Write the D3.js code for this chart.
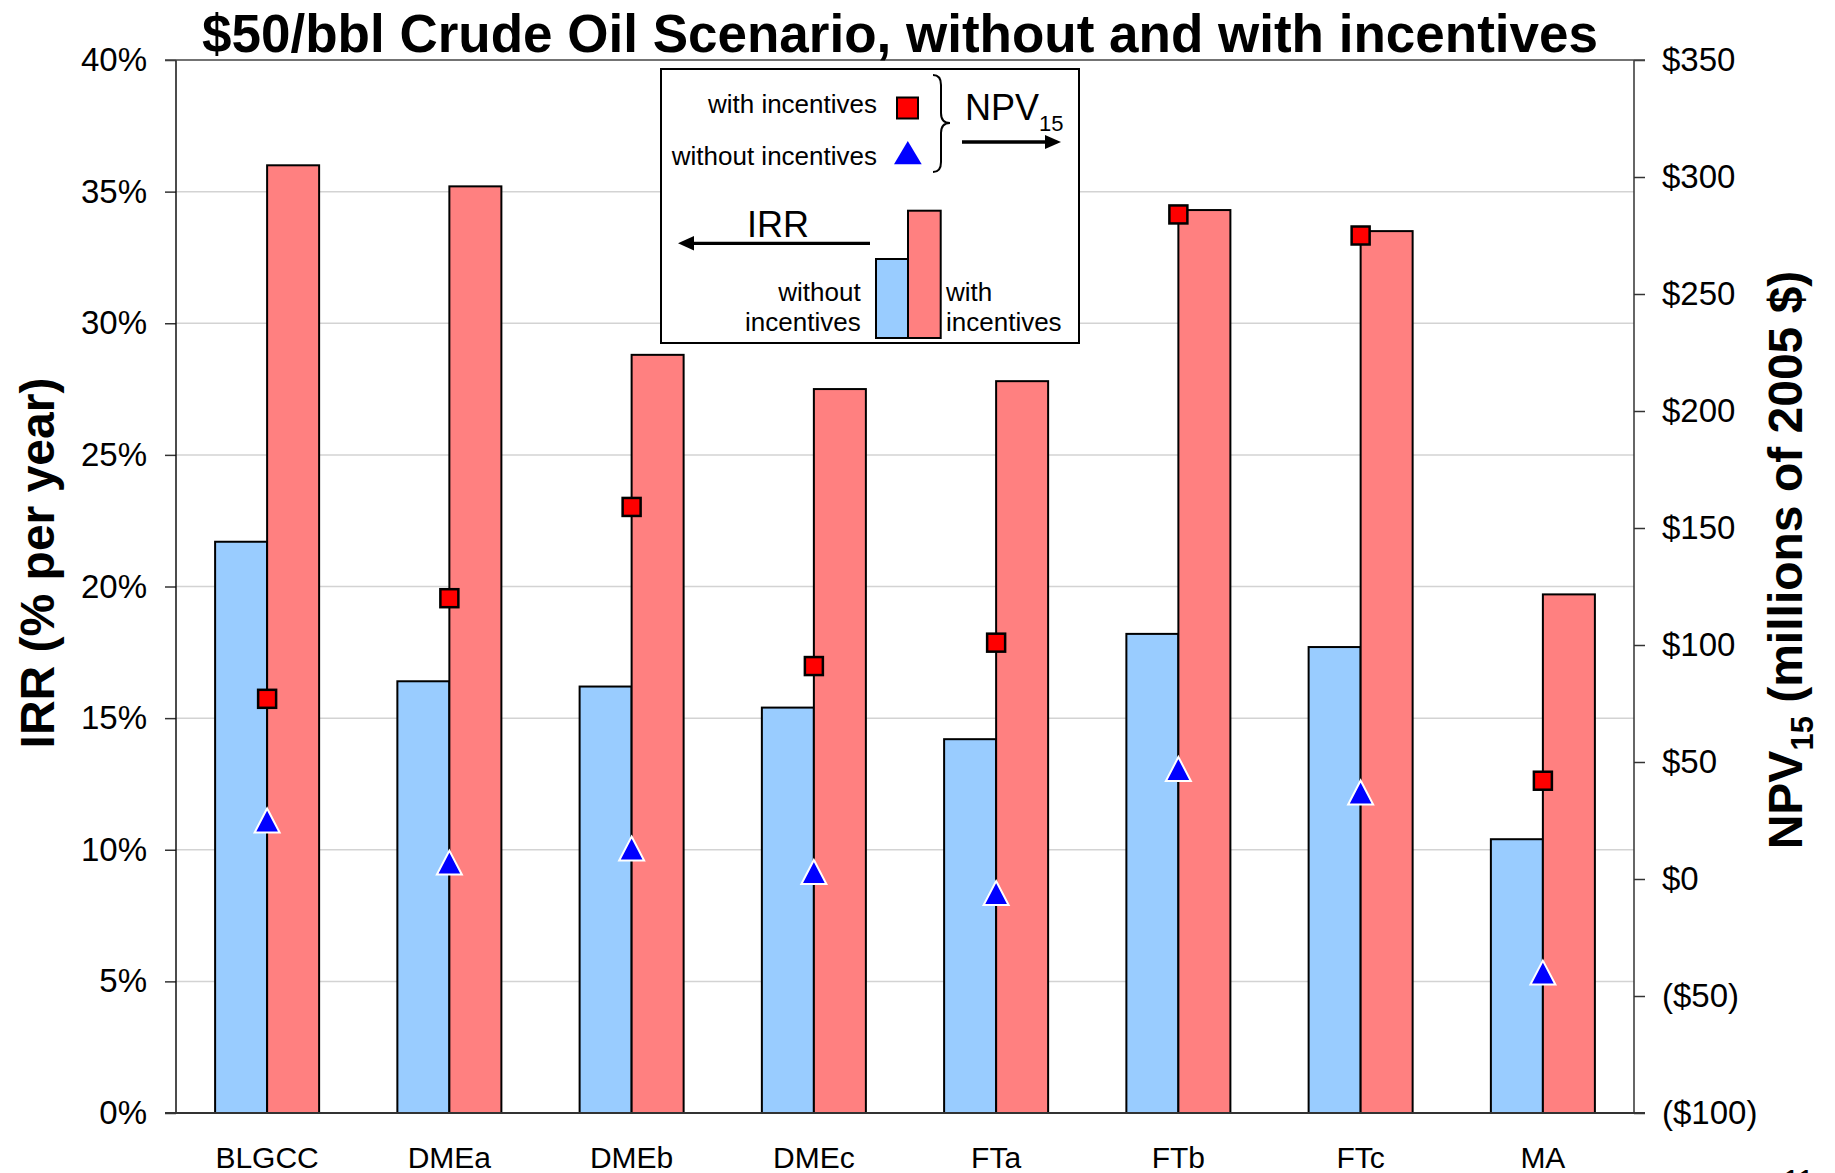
<!DOCTYPE html>
<html>
<head>
<meta charset="utf-8">
<script src="https://cdn.jsdelivr.net/npm/d3@7"></script>
<style>
  html, body { margin: 0; padding: 0; background: #fff; }
  svg { display: block; }
  text { font-family: "Liberation Sans", Arial, sans-serif; fill: #000; }
</style>
</head>
<body>
<script>
// ---------------- data ----------------
const categories = ["BLGCC", "DMEa", "DMEb", "DMEc", "FTa", "FTb", "FTc", "MA"];
const irrWithout = [21.7, 16.4, 16.2, 15.4, 14.2, 18.2, 17.7, 10.4];   // % per year
const irrWith    = [36.0, 35.2, 28.8, 27.5, 27.8, 34.3, 33.5, 19.7];   // % per year
const npvWith    = [77, 120, 159, 91, 101, 284, 275, 42];             // millions of 2005 $
const npvWithout = [25, 7, 13, 3, -6, 47, 37, -40];                   // millions of 2005 $
const irrTicks = [0, 5, 10, 15, 20, 25, 30, 35, 40];
const npvTicks = [-100, -50, 0, 50, 100, 150, 200, 250, 300, 350];
const seriesKeys = ["without", "with"];

// ---------------- layout ----------------
const W = 1835, H = 1173;
const pLeft = 176, pRight = 1634, pTop = 60, pBottom = 1113;
const font = '"Liberation Sans", Arial, sans-serif';

const svg = d3.select("body").append("svg").attr("width", W).attr("height", H);

const x0 = d3.scaleBand().domain(categories).range([pLeft, pRight])
  .paddingInner(0.4293).paddingOuter(0.2146);
const x1 = d3.scaleBand().domain(seriesKeys).range([0, x0.bandwidth()]).padding(0);
const yIRR = d3.scaleLinear().domain([0, 40]).range([pBottom, pTop]);
const yNPV = d3.scaleLinear().domain([-100, 350]).range([pBottom, pTop]);

// gridlines
svg.append("g").selectAll("line")
  .data(irrTicks.filter(d => d > 0 && d < 40))
  .join("line")
  .attr("x1", pLeft).attr("x2", pRight)
  .attr("y1", d => yIRR(d)).attr("y2", d => yIRR(d))
  .attr("stroke", "#d3d3d3").attr("stroke-width", 1.5);

// bars
const groups = svg.append("g").selectAll("g")
  .data(categories.map((c, i) => ({ c, vals: [
    { key: "without", v: irrWithout[i] }, { key: "with", v: irrWith[i] } ] })))
  .join("g")
  .attr("transform", d => `translate(${x0(d.c)},0)`);

groups.selectAll("rect")
  .data(d => d.vals)
  .join("rect")
  .attr("x", d => x1(d.key))
  .attr("width", x1.bandwidth())
  .attr("y", d => yIRR(d.v))
  .attr("height", d => yIRR(0) - yIRR(d.v))
  .attr("fill", d => d.key === "with" ? "#FF8080" : "#99CCFF")
  .attr("stroke", "#000").attr("stroke-width", 2);

// axes
const axL = svg.append("g").attr("transform", `translate(${pLeft},0)`)
  .call(d3.axisLeft(yIRR).tickValues(irrTicks).tickSize(11).tickPadding(18)
    .tickFormat(d => d + "%"));
axL.select(".domain").remove();
axL.selectAll(".tick line").attr("stroke", "#333").attr("stroke-width", 1.5);
axL.selectAll("text").attr("font-size", 33).attr("font-family", font).attr("fill", "#000");

const axR = svg.append("g").attr("transform", `translate(${pRight},0)`)
  .call(d3.axisRight(yNPV).tickValues(npvTicks).tickSize(11).tickPadding(17)
    .tickFormat(d => d < 0 ? "($" + (-d) + ")" : "$" + d));
axR.select(".domain").remove();
axR.selectAll(".tick line").attr("stroke", "#333").attr("stroke-width", 1.5);
axR.selectAll("text").attr("font-size", 33).attr("font-family", font).attr("fill", "#000");

// frame lines
svg.append("line").attr("x1", pLeft).attr("x2", pLeft).attr("y1", pTop).attr("y2", pBottom)
  .attr("stroke", "#111").attr("stroke-width", 1.5);
svg.append("line").attr("x1", pRight).attr("x2", pRight).attr("y1", pTop).attr("y2", pBottom)
  .attr("stroke", "#333").attr("stroke-width", 1.5);
svg.append("line").attr("x1", pLeft - 11).attr("x2", pRight + 11).attr("y1", pTop).attr("y2", pTop)
  .attr("stroke", "#444").attr("stroke-width", 1.5);
svg.append("line").attr("x1", pLeft - 11).attr("x2", pRight + 11).attr("y1", pBottom).attr("y2", pBottom)
  .attr("stroke", "#333").attr("stroke-width", 2);

// category labels
svg.append("g").selectAll("text").data(categories).join("text")
  .attr("x", d => x0(d) + x0.bandwidth() / 2)
  .attr("y", 1168)
  .attr("text-anchor", "middle")
  .attr("font-size", 30)
  .text(d => d);

// markers
const cx = c => x0(c) + x0.bandwidth() / 2;
svg.append("g").selectAll("path")
  .data(categories.map((c, i) => ({ c, v: npvWithout[i] })))
  .join("path")
  .attr("d", d => {
    const X = cx(d.c), Y = yNPV(d.v);
    return `M${X},${Y - 12} L${X + 12.5},${Y + 12} L${X - 12.5},${Y + 12} Z`;
  })
  .attr("fill", "#0000FF").attr("stroke", "#fff").attr("stroke-width", 2)
  .attr("stroke-linejoin", "miter");

svg.append("g").selectAll("rect")
  .data(categories.map((c, i) => ({ c, v: npvWith[i] })))
  .join("rect")
  .attr("x", d => cx(d.c) - 9).attr("y", d => yNPV(d.v) - 9)
  .attr("width", 18).attr("height", 18)
  .attr("fill", "#FF0000").attr("stroke", "#000").attr("stroke-width", 2.5);

// title
svg.append("text").attr("x", 900).attr("y", 52).attr("text-anchor", "middle")
  .attr("font-size", 53).attr("font-weight", "bold")
  .text("$50/bbl Crude Oil Scenario, without and with incentives");

// axis titles
svg.append("text")
  .attr("transform", "translate(54,563) rotate(-90)")
  .attr("text-anchor", "middle").attr("font-size", 48).attr("font-weight", "bold")
  .text("IRR (% per year)");

const rt = svg.append("text")
  .attr("transform", "translate(1802,560) rotate(-90)")
  .attr("text-anchor", "middle").attr("font-size", 48).attr("font-weight", "bold");
rt.append("tspan").text("NPV");
rt.append("tspan").attr("font-size", 31).attr("dy", 11).text("15");
rt.append("tspan").attr("dy", -11).text(" (millions of 2005 $)");

// ---------------- legend ----------------
const lg = svg.append("g");
lg.append("rect").attr("x", 661).attr("y", 69).attr("width", 418).attr("height", 274)
  .attr("fill", "#fff").attr("stroke", "#000").attr("stroke-width", 2);

lg.append("text").attr("x", 877).attr("y", 113).attr("text-anchor", "end")
  .attr("font-size", 26).text("with incentives");
lg.append("text").attr("x", 877).attr("y", 165).attr("text-anchor", "end")
  .attr("font-size", 26).text("without incentives");
lg.append("rect").attr("x", 897).attr("y", 97.5).attr("width", 21).attr("height", 21)
  .attr("fill", "#FF0000").attr("stroke", "#000").attr("stroke-width", 2);
lg.append("path").attr("d", "M907.8,141 L921.7,164.3 L894,164.3 Z").attr("fill", "#0000FF");

// brace
lg.append("path")
  .attr("d", "M933,75 Q941,75 941,85 L941,113 Q941,123 950,123 Q941,123 941,133 L941,162 Q941,172 933,172")
  .attr("fill", "none").attr("stroke", "#000").attr("stroke-width", 2);

const npvT = lg.append("text").attr("x", 965).attr("y", 120).attr("font-size", 36);
npvT.append("tspan").text("NPV");
npvT.append("tspan").attr("font-size", 22).attr("dy", 11).text("15");

// right arrow
lg.append("line").attr("x1", 962).attr("x2", 1048).attr("y1", 142).attr("y2", 142)
  .attr("stroke", "#000").attr("stroke-width", 3.3);
lg.append("path").attr("d", "M1061,142 L1045,135 L1045,149 Z").attr("fill", "#000");

lg.append("text").attr("x", 747).attr("y", 237).attr("font-size", 36).text("IRR");
// left arrow
lg.append("line").attr("x1", 870).attr("x2", 690).attr("y1", 243.3).attr("y2", 243.3)
  .attr("stroke", "#000").attr("stroke-width", 3.3);
lg.append("path").attr("d", "M678,243.3 L694,236 L694,250.6 Z").attr("fill", "#000");

// legend bars
lg.append("rect").attr("x", 876).attr("y", 259).attr("width", 32).attr("height", 79)
  .attr("fill", "#99CCFF").attr("stroke", "#000").attr("stroke-width", 2);
lg.append("rect").attr("x", 908).attr("y", 210.7).attr("width", 32.7).attr("height", 127.3)
  .attr("fill", "#FF8080").attr("stroke", "#000").attr("stroke-width", 2);

lg.append("text").attr("x", 860.7).attr("y", 300.7).attr("text-anchor", "end")
  .attr("font-size", 26).text("without");
lg.append("text").attr("x", 860.7).attr("y", 330.7).attr("text-anchor", "end")
  .attr("font-size", 26).text("incentives");
lg.append("text").attr("x", 946).attr("y", 300.7).attr("font-size", 26).text("with");
lg.append("text").attr("x", 946).attr("y", 330.7).attr("font-size", 26).text("incentives");

// page number (cut off at the bottom edge)
svg.append("text").attr("x", 1783).attr("y", 1190).attr("font-size", 30).text("11");
</script>
</body>
</html>
